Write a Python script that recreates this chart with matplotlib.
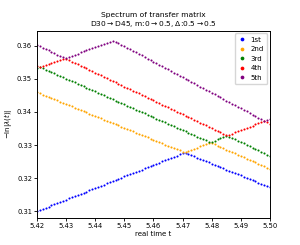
import numpy as np
import matplotlib
matplotlib.use("Agg")
import matplotlib.pyplot as plt

# real time grid, step 0.001
t = np.round(np.arange(5.420, 5.5005, 0.001), 3)

first = [
    0.31000, 0.31035, 0.31070, 0.31105, 0.31140, 0.31175, 0.31210, 0.31245, 0.31280, 0.31315,
    0.31350, 0.31385, 0.31420, 0.31455, 0.31490, 0.31525, 0.31560, 0.31595, 0.31630, 0.31665,
    0.31700, 0.31735, 0.31770, 0.31805, 0.31840, 0.31875, 0.31910, 0.31945, 0.31980, 0.32015,
    0.32050, 0.32085, 0.32120, 0.32155, 0.32190, 0.32225, 0.32260, 0.32295, 0.32330, 0.32365,
    0.32400, 0.32435, 0.32470, 0.32505, 0.32540, 0.32575, 0.32610, 0.32645, 0.32680, 0.32715,
    0.32750, 0.32764, 0.32728, 0.32692, 0.32656, 0.32620, 0.32584, 0.32548, 0.32512, 0.32476,
    0.32440, 0.32404, 0.32368, 0.32332, 0.32296, 0.32260, 0.32224, 0.32188, 0.32152, 0.32116,
    0.32080, 0.32044, 0.32008, 0.31972, 0.31936, 0.31900, 0.31864, 0.31828, 0.31792, 0.31756,
    0.31720,
]

second = [
    0.34600, 0.34564, 0.34528, 0.34492, 0.34456, 0.34420, 0.34384, 0.34348, 0.34312, 0.34276,
    0.34240, 0.34204, 0.34168, 0.34132, 0.34096, 0.34060, 0.34024, 0.33988, 0.33952, 0.33916,
    0.33880, 0.33844, 0.33808, 0.33772, 0.33736, 0.33700, 0.33664, 0.33628, 0.33592, 0.33556,
    0.33520, 0.33484, 0.33448, 0.33412, 0.33376, 0.33340, 0.33304, 0.33268, 0.33232, 0.33196,
    0.33160, 0.33124, 0.33088, 0.33052, 0.33016, 0.32980, 0.32944, 0.32908, 0.32872, 0.32836,
    0.32800, 0.32785, 0.32820, 0.32855, 0.32890, 0.32925, 0.32960, 0.32995, 0.33030, 0.33065,
    0.33060, 0.33021, 0.32982, 0.32943, 0.32904, 0.32865, 0.32826, 0.32787, 0.32748, 0.32709,
    0.32670, 0.32631, 0.32592, 0.32553, 0.32514, 0.32475, 0.32436, 0.32397, 0.32358, 0.32319,
    0.32280,
]

third = [
    0.35320, 0.35352, 0.35322, 0.35283, 0.35244, 0.35205, 0.35166, 0.35127, 0.35088, 0.35049,
    0.35010, 0.34971, 0.34932, 0.34893, 0.34854, 0.34815, 0.34776, 0.34737, 0.34698, 0.34659,
    0.34620, 0.34581, 0.34542, 0.34503, 0.34464, 0.34425, 0.34386, 0.34347, 0.34308, 0.34269,
    0.34230, 0.34191, 0.34152, 0.34113, 0.34074, 0.34035, 0.33996, 0.33957, 0.33918, 0.33879,
    0.33840, 0.33801, 0.33762, 0.33723, 0.33684, 0.33645, 0.33606, 0.33567, 0.33528, 0.33489,
    0.33450, 0.33411, 0.33372, 0.33333, 0.33294, 0.33255, 0.33216, 0.33177, 0.33138, 0.33099,
    0.33100, 0.33135, 0.33170, 0.33205, 0.33240, 0.33275, 0.33258, 0.33216, 0.33174, 0.33132,
    0.33090, 0.33048, 0.33006, 0.32964, 0.32922, 0.32880, 0.32838, 0.32796, 0.32754, 0.32712,
    0.32670,
]

fourth = [
    0.35400, 0.35361, 0.35384, 0.35416, 0.35448, 0.35480, 0.35512, 0.35544, 0.35576, 0.35608,
    0.35610, 0.35568, 0.35526, 0.35484, 0.35442, 0.35400, 0.35358, 0.35316, 0.35274, 0.35232,
    0.35190, 0.35148, 0.35106, 0.35064, 0.35022, 0.34980, 0.34938, 0.34896, 0.34854, 0.34812,
    0.34770, 0.34728, 0.34686, 0.34644, 0.34602, 0.34560, 0.34518, 0.34476, 0.34434, 0.34392,
    0.34350, 0.34308, 0.34266, 0.34224, 0.34182, 0.34140, 0.34098, 0.34056, 0.34014, 0.33972,
    0.33930, 0.33888, 0.33846, 0.33804, 0.33762, 0.33720, 0.33678, 0.33636, 0.33594, 0.33552,
    0.33510, 0.33468, 0.33426, 0.33384, 0.33342, 0.33300, 0.33310, 0.33345, 0.33380, 0.33415,
    0.33450, 0.33485, 0.33520, 0.33555, 0.33590, 0.33625, 0.33660, 0.33695, 0.33730, 0.33687,
    0.33640,
]

fifth = [
    0.36030, 0.35988, 0.35946, 0.35904, 0.35862, 0.35820, 0.35778, 0.35736, 0.35694, 0.35652,
    0.35640, 0.35672, 0.35704, 0.35736, 0.35768, 0.35800, 0.35832, 0.35864, 0.35896, 0.35928,
    0.35960, 0.35992, 0.36024, 0.36056, 0.36088, 0.36120, 0.36152, 0.36131, 0.36084, 0.36037,
    0.35990, 0.35943, 0.35896, 0.35849, 0.35802, 0.35755, 0.35708, 0.35661, 0.35614, 0.35567,
    0.35520, 0.35473, 0.35426, 0.35379, 0.35332, 0.35285, 0.35238, 0.35191, 0.35144, 0.35097,
    0.35050, 0.35003, 0.34956, 0.34909, 0.34862, 0.34815, 0.34768, 0.34721, 0.34674, 0.34627,
    0.34580, 0.34533, 0.34486, 0.34439, 0.34392, 0.34345, 0.34298, 0.34251, 0.34204, 0.34157,
    0.34110, 0.34063, 0.34016, 0.33969, 0.33922, 0.33875, 0.33828, 0.33781, 0.33734, 0.33765,
    0.33800,
]

labels = ['1st', '2nd', '3rd', '4th', '5th']
colors = ['blue', 'orange', 'green', 'red', 'purple']

fig = plt.figure(figsize=(3.0, 2.45), dpi=100)
ax = fig.add_axes([0.123, 0.111, 0.777, 0.764])

for vals, lab, col in zip([first, second, third, fourth, fifth], labels, colors):
    ax.plot(t, vals, linestyle='none', marker='o', markersize=1.5,
            markeredgewidth=0, color=col, label=lab)

ax.set_xlim(5.42, 5.50)
ax.set_ylim(0.308, 0.3646)
ax.set_xticks([5.42, 5.43, 5.44, 5.45, 5.46, 5.47, 5.48, 5.49, 5.50])
ax.set_yticks([0.31, 0.32, 0.33, 0.34, 0.35, 0.36])
ax.tick_params(labelsize=4.9, length=2, width=0.6, pad=1.5)
for s in ax.spines.values():
    s.set_linewidth(0.7)

ax.set_xlabel('real time t', fontsize=5, labelpad=1.5)
ax.set_ylabel(r'$-\ln|\lambda(t)|$', fontsize=5, labelpad=2)
ax.set_title('Spectrum of transfer matrix\n'
             'D30$\\rightarrow$D45, m:0$\\rightarrow$0.5, $\\Delta$:0.5$\\rightarrow$0.5',
             fontsize=5.4, pad=3)

ax.legend(loc='upper right', fontsize=5, markerscale=1.8, handlelength=1.2,
          handletextpad=0.6, borderpad=0.5, labelspacing=0.5, framealpha=0.8,
          borderaxespad=0.4)

fig.savefig('out.png', dpi=100)
